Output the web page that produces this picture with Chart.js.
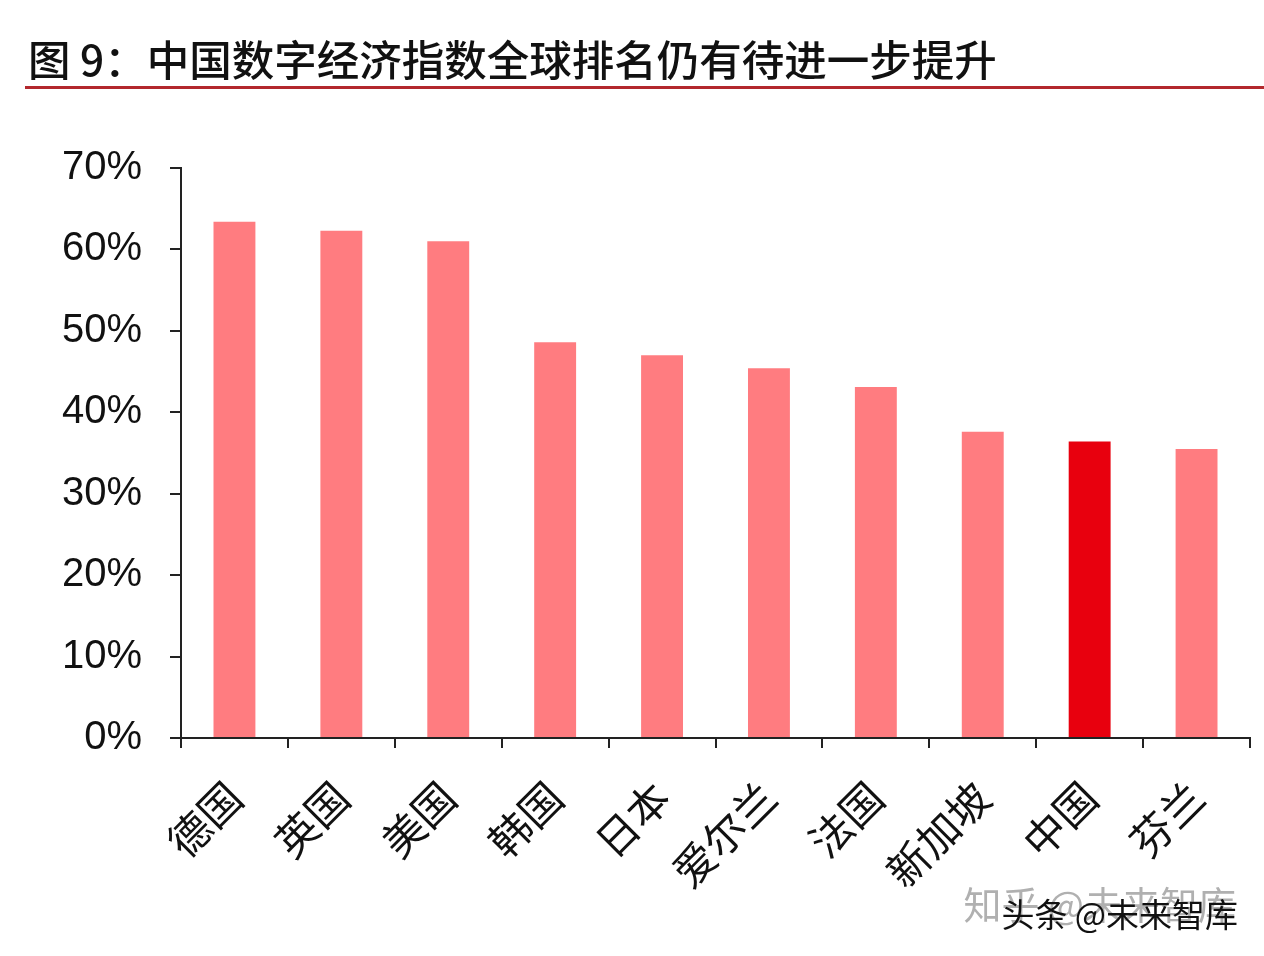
<!DOCTYPE html>
<html>
<head>
<meta charset="utf-8">
<script src="https://cdn.jsdelivr.net/npm/chart.js@4/dist/chart.umd.min.js"></script>
<style>
  html, body { margin: 0; padding: 0; background: #fff; }
  #wrap { position: relative; width: 1264px; height: 956px; overflow: hidden; }
  #title {
    position: absolute; left: 28px; top: 33px;
    font-family: "Noto Sans CJK SC", sans-serif; font-size: 42.5px; line-height: 50px;
    font-weight: 500; color: #111; white-space: nowrap;
  }
  #rule { position: absolute; left: 25px; right: 0; top: 86px; height: 3px; background: #b3282d; }
  canvas { position: absolute; left: 0; top: 0; }
</style>
</head>
<body>
<div id="wrap">
  <canvas id="myBarChart" width="1264" height="956"></canvas>
  <div id="title">图 9：中国数字经济指数全球排名仍有待进一步提升</div>
  <div id="rule"></div>
</div>
<script>
  // Data
  var countries = ['德国', '英国', '美国', '韩国', '日本', '爱尔兰', '法国', '新加坡', '中国', '芬兰'];
  var indexValues = [63.4, 62.3, 61.0, 48.6, 47.0, 45.4, 43.1, 37.6, 36.4, 35.5];
  var yTicks = [0, 10, 20, 30, 40, 50, 60, 70];

  var pink = '#ff7c80';
  var red = '#e8000e';
  var barColors = countries.map(function (c) { return c === '中国' ? red : pink; });

  // Watermark text at the bottom right
  var watermark = {
    id: 'watermark',
    afterDraw: function (chart) {
      var ctx = chart.ctx;
      ctx.save();
      ctx.textAlign = 'right';
      ctx.textBaseline = 'middle';
      ctx.font = '38px "Noto Sans CJK SC"';
      ctx.fillStyle = 'rgba(150,150,150,0.75)';
      ctx.fillText('知乎 @未来智库', 1236, 905);
      ctx.font = '33px "Noto Sans CJK SC"';
      ctx.fillStyle = '#111';
      ctx.fillText('头条 @未来智库', 1238, 914);
      ctx.restore();
    }
  };

  var ctx = document.getElementById('myBarChart').getContext('2d');
  var myBarChart = new Chart(ctx, {
    type: 'bar',
    data: {
      labels: countries,
      datasets: [{
        data: indexValues,
        backgroundColor: barColors,
        barPercentage: 0.8,
        categoryPercentage: 0.49
      }]
    },
    options: {
      responsive: false,
      animation: false,
      layout: { padding: { top: 168, right: 14, left: 0, bottom: 0 } },
      plugins: {
        legend: { display: false },
        tooltip: { enabled: false }
      },
      scales: {
        x: {
          grid: { drawOnChartArea: false, drawTicks: true, tickLength: 10, color: '#222', lineWidth: 2 },
          border: { display: true, color: '#222', width: 2 },
          ticks: {
            maxRotation: 45, minRotation: 45, padding: 24,
            color: '#111',
            font: { family: '"Noto Sans CJK SC"', size: 42 }
          },
          afterFit: function (s) { s.height = 218; }
        },
        y: {
          min: 0, max: 70,
          afterBuildTicks: function (s) { s.ticks = yTicks.map(function (v) { return { value: v }; }); },
          grid: { drawOnChartArea: false, drawTicks: true, tickLength: 11, color: '#222', lineWidth: 2 },
          border: { display: true, color: '#222', width: 2 },
          ticks: {
            padding: 28,
            color: '#111',
            font: { family: '"Liberation Sans", Arial', size: 40 },
            callback: function (v) { return v + '%'; }
          },
          afterFit: function (s) { s.width = 181; }
        }
      }
    },
    plugins: [watermark]
  });
</script>
</body>
</html>
